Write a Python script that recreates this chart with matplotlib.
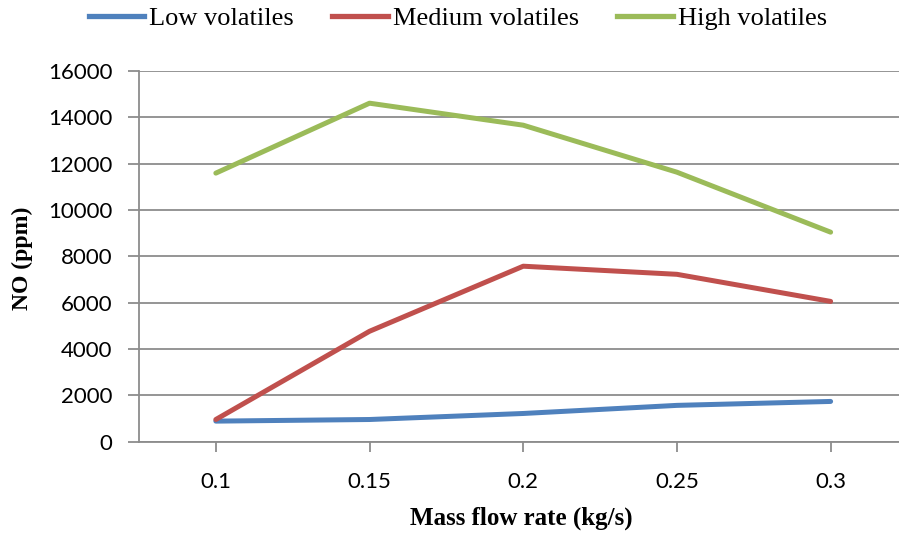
import matplotlib
matplotlib.use("Agg")
import matplotlib.pyplot as plt
from matplotlib.lines import Line2D

categories = ["0.1", "0.15", "0.2", "0.25", "0.3"]
low = [880, 950, 1210, 1560, 1730]
medium = [950, 4760, 7570, 7220, 6050]
high = [11590, 14610, 13660, 11630, 9040]
series_names = ["Low volatiles", "Medium volatiles", "High volatiles"]
colors = ["#4F81BD", "#C0504D", "#9BBB59"]
yticks = [0, 2000, 4000, 6000, 8000, 10000, 12000, 14000, 16000]

fig = plt.figure(figsize=(8.99, 5.33), dpi=100)
ax = fig.add_axes([139/899, 1-441.5/533, 1-139/899, (441.5-71)/533])

x = list(range(len(categories)))
for vals, c in zip([low, medium, high], colors):
    ax.plot(x, vals, color=c, lw=3.6, solid_capstyle="round", solid_joinstyle="round", zorder=3)

grid_c = "#8C8C8C"
ax.set_xlim(-0.5, 4.445)
ax.set_ylim(0, 16000)
ax.set_yticks(yticks)
ax.set_yticklabels([str(v) for v in yticks])
ax.set_xticks(x)
ax.set_xticklabels(categories)
ax.yaxis.grid(True, color=grid_c, lw=1.3)
ax.set_axisbelow(True)
for s in ["top", "right"]:
    ax.spines[s].set_visible(False)
for s in ["left", "bottom"]:
    ax.spines[s].set_color(grid_c)
    ax.spines[s].set_linewidth(1.3)
ax.tick_params(axis="y", length=8, width=1.3, color=grid_c, pad=11, labelsize=16)
ax.tick_params(axis="x", length=7, width=1.3, color=grid_c, pad=15, labelsize=16)
for lab in ax.get_xticklabels() + ax.get_yticklabels():
    lab.set_fontfamily("Lato")

fig.text(521/899, 1-518/533, "Mass flow rate (kg/s)", ha="center", va="center",
         fontsize=18, fontweight="bold", family="Liberation Serif")
fig.text(22/899, 1-258/533, "NO (ppm)", ha="center", va="center", rotation=90,
         fontsize=17, fontweight="bold", family="Liberation Serif")

handles = [Line2D([], [], color=c, lw=3.8) for c in colors]
fig.legend(handles, series_names, loc="center", bbox_to_anchor=(458/899, 1-18/533),
           ncol=3, frameon=False, handlelength=2.1, handletextpad=0.2,
           columnspacing=1.45, prop={"family": "Liberation Serif", "size": 19})

fig.savefig("out.png", dpi=100)
